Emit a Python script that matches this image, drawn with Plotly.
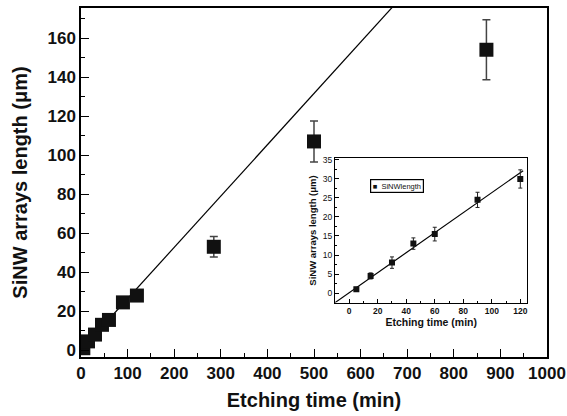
import plotly.graph_objects as go

# Main panel data
main_time = [5, 15, 30, 45, 60, 90, 120, 285, 500, 870]
main_length = [1, 4.5, 8, 13, 15.5, 24.5, 28, 53, 107, 154]
main_err = [0.5, 0.8, 1.5, 1.5, 1.8, 2.0, 2.4, 5.3, 10.5, 15.4]

# Inset data
inset_time = [5, 15, 30, 45, 60, 90, 120]
inset_length = [1, 4.5, 8, 13, 15.5, 24.5, 30]
inset_err = [0.5, 0.8, 1.5, 1.5, 1.8, 2.0, 2.4]
inset_legend_label = "SiNWlength"

# Linear fit parameters
fit_slope = 0.263
fit_intercept = 0.1
main_fit_x = [0, 700]
inset_fit_x = [-10, 122]

FONT = "Liberation Sans, Arial, Helvetica, sans-serif"

fig = go.Figure()

fig.add_trace(go.Scatter(
    x=main_fit_x, y=[fit_slope * v + fit_intercept for v in main_fit_x],
    mode="lines", line=dict(color="black", width=1.2),
    showlegend=False, xaxis="x", yaxis="y", hoverinfo="skip"))

fig.add_trace(go.Scatter(
    x=main_time, y=main_length, mode="markers",
    marker=dict(symbol="square", size=14, color="#111111"),
    error_y=dict(type="data", array=main_err, color="#444444", thickness=1.5, width=4),
    showlegend=False, xaxis="x", yaxis="y"))

fig.add_trace(go.Scatter(
    x=inset_fit_x, y=[fit_slope * v + fit_intercept for v in inset_fit_x],
    mode="lines", line=dict(color="black", width=1.2),
    showlegend=False, xaxis="x2", yaxis="y2", hoverinfo="skip"))

fig.add_trace(go.Scatter(
    x=inset_time, y=inset_length, mode="markers", name=inset_legend_label,
    marker=dict(symbol="square", size=6, color="#111111"),
    error_y=dict(type="data", array=inset_err, color="#222222", thickness=1, width=2),
    showlegend=False, xaxis="x2", yaxis="y2"))

axis_common = dict(showline=True, linecolor="black", mirror=True, showgrid=False,
                   zeroline=False, ticks="inside", tickcolor="black", automargin=False)

fig.update_layout(
    template="none",
    width=567, height=416,
    margin=dict(l=81, r=20, t=8, b=59, pad=0),
    paper_bgcolor="white", plot_bgcolor="white",
    font=dict(family=FONT, color="#111111"),
    xaxis=dict(**axis_common, domain=[0, 1], range=[0, 1000], dtick=100, tick0=0,
               ticklen=8, tickwidth=1.2, linewidth=1.5,
               minor=dict(dtick=50, ticks="inside", ticklen=4, tickcolor="black"),
               tickfont=dict(family=FONT, size=17, color="#111111", weight="bold"),
               title=dict(text="<b>Etching time (min)</b>",
                          font=dict(family=FONT, size=20, color="#111111"), standoff=11)),
    yaxis=dict(**axis_common, domain=[0, 1], range=[-3.5, 175.4],
               tickvals=[0, 20, 40, 60, 80, 100, 120, 140, 160],
               ticklen=8, tickwidth=1.2, linewidth=1.5,
               minor=dict(dtick=10, tick0=0, ticks="inside", ticklen=4, tickcolor="black"),
               tickfont=dict(family=FONT, size=17, color="#111111", weight="bold"),
               title=dict(text="<b>SiNW arrays length (\u03bcm)</b>",
                          font=dict(family=FONT, size=20, color="#111111"), standoff=14)),
    xaxis2=dict(**axis_common, domain=[0.545, 0.958], anchor="y2", range=[-10, 125],
                dtick=20, tick0=0, ticklen=4, linewidth=1,
                minor=dict(dtick=10, ticks="inside", ticklen=2, tickcolor="black"),
                tickfont=dict(family=FONT, size=8.5, color="#111111", weight="bold"),
                title=dict(text="<b>Etching time (min)</b>",
                           font=dict(family=FONT, size=10.5, color="#111111"), standoff=2)),
    yaxis2=dict(**axis_common, domain=[0.156, 0.569], anchor="x2", range=[-2.5, 35.4],
                dtick=5, tick0=0, ticklen=4, linewidth=1,
                minor=dict(dtick=2.5, ticks="inside", ticklen=2, tickcolor="black"),
                tickfont=dict(family=FONT, size=8.5, color="#111111"),
                title=dict(text="<b>SiNW arrays length (\u03bcm)</b>",
                           font=dict(family=FONT, size=9.5, color="#111111"), standoff=4)),
    showlegend=False,
    annotations=[dict(
        xref="paper", yref="paper", x=0.62, y=0.51, xanchor="left", yanchor="top",
        text="\u25a0  " + inset_legend_label, showarrow=False,
        font=dict(family=FONT, size=7.5, color="#111111"),
        bordercolor="black", borderwidth=1.2, borderpad=1.5, bgcolor="white")],
)

fig.write_html(
    "out.html",
    config={"displayModeBar": False},
    post_script="document.body.style.margin='0';document.body.style.overflow='hidden';",
)
